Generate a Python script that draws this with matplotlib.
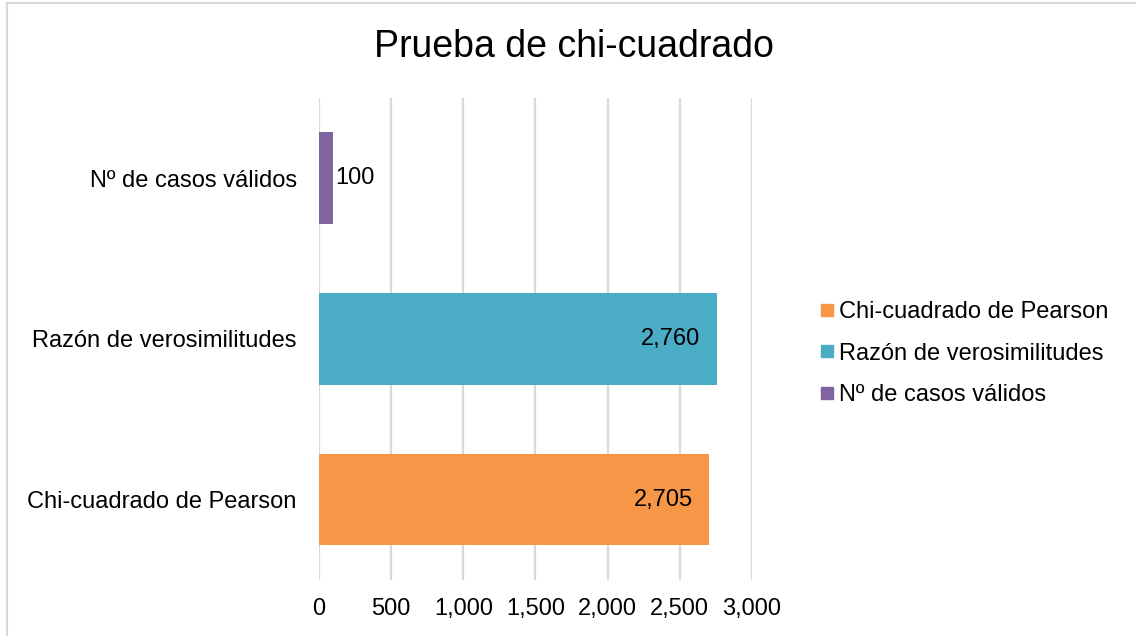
import matplotlib.pyplot as plt
from matplotlib.lines import Line2D
from matplotlib.ticker import FuncFormatter

plt.rcParams['font.family'] = ['Liberation Sans', 'DejaVu Sans']

categories = ["Chi-cuadrado de Pearson", "Razón de verosimilitudes", "Nº de casos válidos"]
values = [2705, 2760, 100]
value_labels = ["2,705", "2,760", "100"]
colors = ["#F79646", "#4BACC6", "#8064A2"]
x_ticks = [0, 500, 1000, 1500, 2000, 2500, 3000]

fig = plt.figure(figsize=(11.36, 6.36), dpi=100)
ax = fig.add_axes([0.2808, 0.088, 0.381, 0.758])

y = list(range(len(categories)))
bars = ax.barh(y, values, height=0.57, color=colors, zorder=2)

for bar, v, lab in zip(bars, values, value_labels):
    yc = bar.get_y() + bar.get_height() / 2
    if v > 1000:
        ax.annotate(lab, (v, yc), xytext=(-12, 0), textcoords="offset points",
                    ha="right", va="center", fontsize=17, color="black", zorder=3)
    else:
        ax.annotate(lab, (v, yc), xytext=(1, 0), textcoords="offset points",
                    ha="left", va="center", fontsize=17, color="black", zorder=3)

ax.set_xlim(0, 3000)
ax.set_ylim(-0.5, 2.5)
ax.set_xticks(x_ticks)
ax.xaxis.set_major_formatter(FuncFormatter(lambda v, p: f"{int(v):,}"))
ax.set_yticks(y)
ax.set_yticklabels(categories)
ax.tick_params(axis="both", length=0, labelsize=17, colors="black")
ax.tick_params(axis="x", pad=13)
ax.tick_params(axis="y", pad=16)
ax.grid(axis="x", color="#D9D9D9", linewidth=1.6, zorder=0)
for s in ax.spines.values():
    s.set_visible(False)

fig.text(0.505, 0.926, "Prueba de chi-cuadrado", ha="center", va="center", fontsize=27)

handles = [Line2D([0], [0], marker="s", linestyle="none", markersize=8,
                  markerfacecolor=c, markeredgecolor=c) for c in colors]
fig.legend(handles, categories, loc="center left", bbox_to_anchor=(0.7107, 0.444),
           frameon=False, fontsize=17, handletextpad=0.05, labelspacing=0.82,
           handlelength=0.9, borderaxespad=0)

# chart area border (top and left visible)
fig.add_artist(Line2D([7 / 1136, 7 / 1136], [0, 1 - 3 / 636], transform=fig.transFigure,
                      color="#D9D9D9", linewidth=1.5))
fig.add_artist(Line2D([7 / 1136, 1], [1 - 3 / 636, 1 - 3 / 636], transform=fig.transFigure,
                      color="#D9D9D9", linewidth=1.5))

fig.savefig("out.png", dpi=100)
